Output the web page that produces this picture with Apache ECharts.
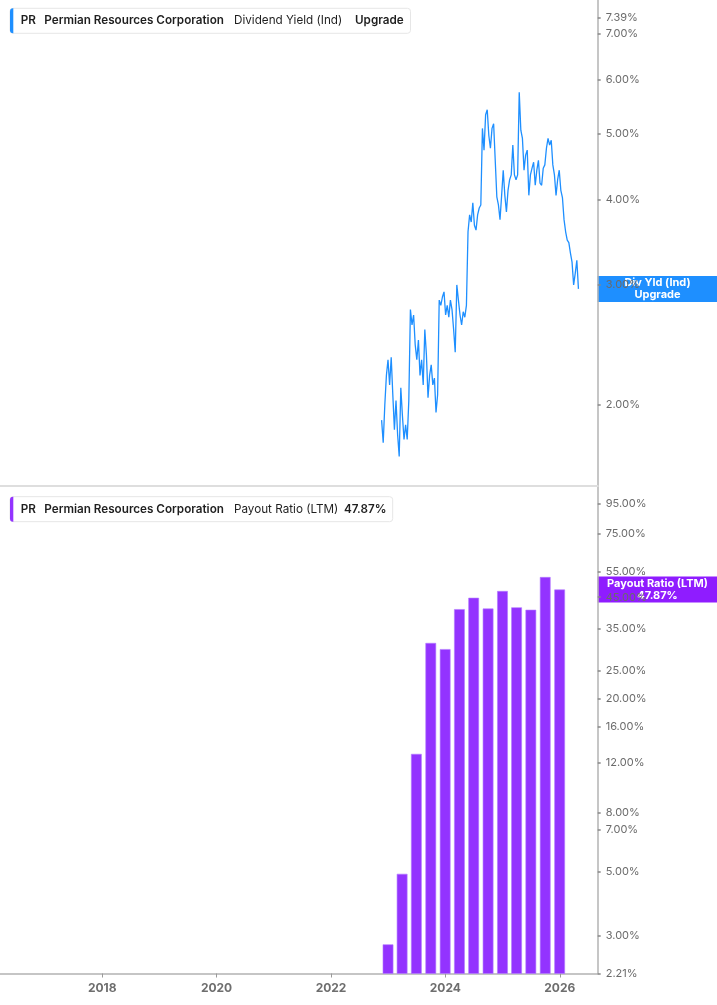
<!DOCTYPE html>
<html>
<head>
<meta charset="utf-8">
<script src="https://cdn.jsdelivr.net/npm/echarts@6/dist/echarts.min.js"></script>
<style>
html, body { margin: 0; padding: 0; background: #fff; }
#chart { width: 717px; height: 1005px; }
</style>
</head>
<body>
<div id="chart"></div>
<script>
// dividend yield (ind), %, sampled evenly between these two dates
var yieldStart = '2022-11-20',
	yieldEnd = '2026-04-30';
var yieldValues = [
	1.90, 1.76, 2.00, 2.21, 2.33, 2.14, 2.35, 2.07, 1.84, 2.03,
	1.81, 1.68, 2.12, 1.93, 1.78, 1.87, 1.78, 2.03, 2.76, 2.62,
	2.71, 2.45, 2.33, 2.49, 2.21, 2.33, 2.14, 2.58, 2.37, 2.05,
	2.21, 2.29, 2.14, 2.19, 1.95, 2.07, 2.85, 2.80, 2.88, 2.93,
	2.71, 2.80, 2.69, 2.85, 2.76, 2.58, 2.39, 3.00, 2.85, 2.71,
	2.62, 2.74, 2.69, 2.80, 3.59, 3.80, 3.71, 3.96, 3.67, 3.61,
	3.80, 3.89, 3.93, 5.09, 4.73, 5.33, 5.42, 4.97, 4.76, 5.09,
	5.17, 5.20, 4.04, 3.93, 3.74, 4.06, 4.42, 4.06, 3.84, 4.13,
	4.28, 4.35, 4.81, 4.35, 4.28, 4.35, 5.75, 5.06, 4.92, 4.42,
	4.65, 4.73, 4.06, 4.35, 4.45, 4.54, 4.20, 4.42, 4.57, 4.23,
	4.20, 4.45, 4.50, 4.76, 4.92, 4.81, 4.89, 4.50, 4.35, 4.06,
	4.28, 4.42, 4.13, 4.03, 3.74, 3.59, 3.49, 3.46, 3.34, 3.24,
	3.00, 3.12, 3.26, 2.96
];

// payout ratio (LTM), %, quarterly
var payoutDates = ['2022-12-31', '2023-03-31', '2023-06-30', '2023-09-30', '2023-12-31',
	'2024-03-31', '2024-06-30', '2024-09-30', '2024-12-31', '2025-03-31',
	'2025-06-30', '2025-09-30', '2025-12-31'];
var payoutValues = [2.79, 4.91, 12.83, 31.2, 29.7, 40.9, 44.8, 41.1, 47.3, 41.5, 40.7, 52.9, 47.87];

var yieldTicks = [2, 3, 4, 5, 6, 7, 7.39];
var payoutTicks = [2.21, 3, 5, 7, 8, 12, 16, 20, 25, 35, 45, 55, 75, 95];
var yearTicks = ['2018-01-01', '2020-01-01', '2022-01-01', '2024-01-01', '2026-01-01'];

var xMin = '2016-03-19',
	xMax = '2026-08-31';

var BLUE = '#1e8fff',
	PURPLE = '#9333ff',
	FONT = 'Inter, "Noto Sans", sans-serif';

var ts = function (d) { return new Date(d).getTime(); };

var t0 = ts(yieldStart),
	t1 = ts(yieldEnd);
var yieldData = yieldValues.map(function (v, i) {
	return [t0 + (t1 - t0) * i / (yieldValues.length - 1), v];
});
var payoutData = payoutDates.map(function (d, i) {
	return [ts(d), payoutValues[i]];
});
var yearTickValues = yearTicks.map(ts);

var chart = echarts.init(document.getElementById('chart'));

var xAxisBase = function (grid) {
	return {
		type: 'value',
		gridIndex: grid,
		min: ts(xMin),
		max: ts(xMax),
		splitLine: { show: false }
	};
};

var yAxisBase = function (grid, min, max, ticks) {
	return {
		type: 'log',
		logBase: 10,
		gridIndex: grid,
		position: 'right',
		min: min,
		max: max,
		axisLine: { show: true, lineStyle: { color: '#b3b3b3', width: 1.5 } },
		axisTick: { show: true, length: 3, customValues: ticks, lineStyle: { color: '#888', width: 1.5 } },
		axisLabel: {
			customValues: ticks,
			margin: 8,
			color: '#6b6b6b',
			fontSize: 11,
			fontFamily: FONT,
			formatter: function (v) { return v.toFixed(2) + '%'; }
		},
		splitLine: { show: false }
	};
};

var topX = xAxisBase(0);
topX.axisLine = { show: true, lineStyle: { color: '#dedede', width: 2 } };
topX.axisTick = { show: false };
topX.axisLabel = { show: false };

var bottomX = xAxisBase(1);
bottomX.axisLine = { show: true, lineStyle: { color: '#b3b3b3', width: 1.5 } };
bottomX.axisTick = { show: true, length: 4, customValues: yearTickValues, lineStyle: { color: '#999' } };
bottomX.axisLabel = {
	customValues: yearTickValues,
	formatter: function (v) { return String(new Date(v).getUTCFullYear()); },
	margin: 9,
	color: '#6e6e6e',
	fontSize: 12,
	fontWeight: 'bold',
	fontFamily: FONT
};

chart.setOption({
	animation: false,
	grid: [
		{ left: 0, right: 119.3, top: 0, height: 486 },
		{ left: 0, right: 119.3, top: 487, bottom: 31.5 }
	],
	xAxis: [topX, bottomX],
	yAxis: [
		yAxisBase(0, 1.521, 7.854, yieldTicks),
		yAxisBase(1, 2.21, 108.8, payoutTicks)
	],
	series: [{
		name: 'Dividend Yield (Ind)',
		type: 'line',
		xAxisIndex: 0,
		yAxisIndex: 0,
		data: yieldData,
		showSymbol: false,
		lineStyle: { color: BLUE, width: 1.3 }
	}, {
		name: 'Payout Ratio (LTM)',
		type: 'bar',
		xAxisIndex: 1,
		yAxisIndex: 1,
		data: payoutData,
		barWidth: 10.7,
		itemStyle: { color: PURPLE, borderColor: '#b27aff', borderWidth: 0.6 }
	}]
});

// legend boxes
var legendBox = function (top, width, color, parts) {
	var children = [{
		type: 'rect',
		shape: { x: 10, y: top, width: width, height: 25, r: 3 },
		style: { fill: '#fff', stroke: '#e6e6e6', lineWidth: 1 }
	}, {
		type: 'rect',
		shape: { x: 10, y: top, width: 3.3, height: 25, r: [3, 0, 0, 3] },
		style: { fill: color }
	}];
	parts.forEach(function (p) {
		children.push({
			type: 'text',
			x: p[0],
			y: top + 12.5,
			style: {
				text: p[1],
				fill: '#1f1f1f',
				font: (p[2] ? '600 ' : '400 ') + '11.7px ' + FONT,
				verticalAlign: 'middle'
			}
		});
	});
	return { type: 'group', children: children };
};

// value tags on the right axis
var valueTag = function (yAxisIndex, value, color, text) {
	var y = chart.convertToPixel({ yAxisIndex: yAxisIndex }, value);
	return {
		type: 'group',
		z: 100,
		children: [{
			type: 'rect',
			shape: { x: 597.7, y: y - 13, width: 120, height: 26 },
			style: { fill: color }
		}, {
			type: 'text',
			x: 657.5,
			y: y,
			style: {
				text: text,
				fill: '#fff',
				font: 'bold 11px ' + FONT,
				align: 'center',
				verticalAlign: 'middle',
				lineHeight: 12
			}
		}]
	};
};

chart.setOption({
	graphic: [
		legendBox(8.3, 400.5, BLUE, [
			[20.7, 'PR', true],
			[44.3, 'Permian Resources Corporation', true],
			[234, 'Dividend Yield (Ind)', false],
			[355, 'Upgrade', true]
		]),
		legendBox(496.7, 382.7, PURPLE, [
			[20.7, 'PR', true],
			[44.3, 'Permian Resources Corporation', true],
			[234, 'Payout Ratio (LTM)', false],
			[344, payoutValues[payoutValues.length - 1].toFixed(2) + '%', true]
		]),
		valueTag(0, yieldValues[yieldValues.length - 1], BLUE, 'Div Yld (Ind)\nUpgrade'),
		valueTag(1, payoutValues[payoutValues.length - 1], '#8f1cff',
			'Payout Ratio (LTM)\n' + payoutValues[payoutValues.length - 1].toFixed(2) + '%')
	]
});
</script>
</body>
</html>
